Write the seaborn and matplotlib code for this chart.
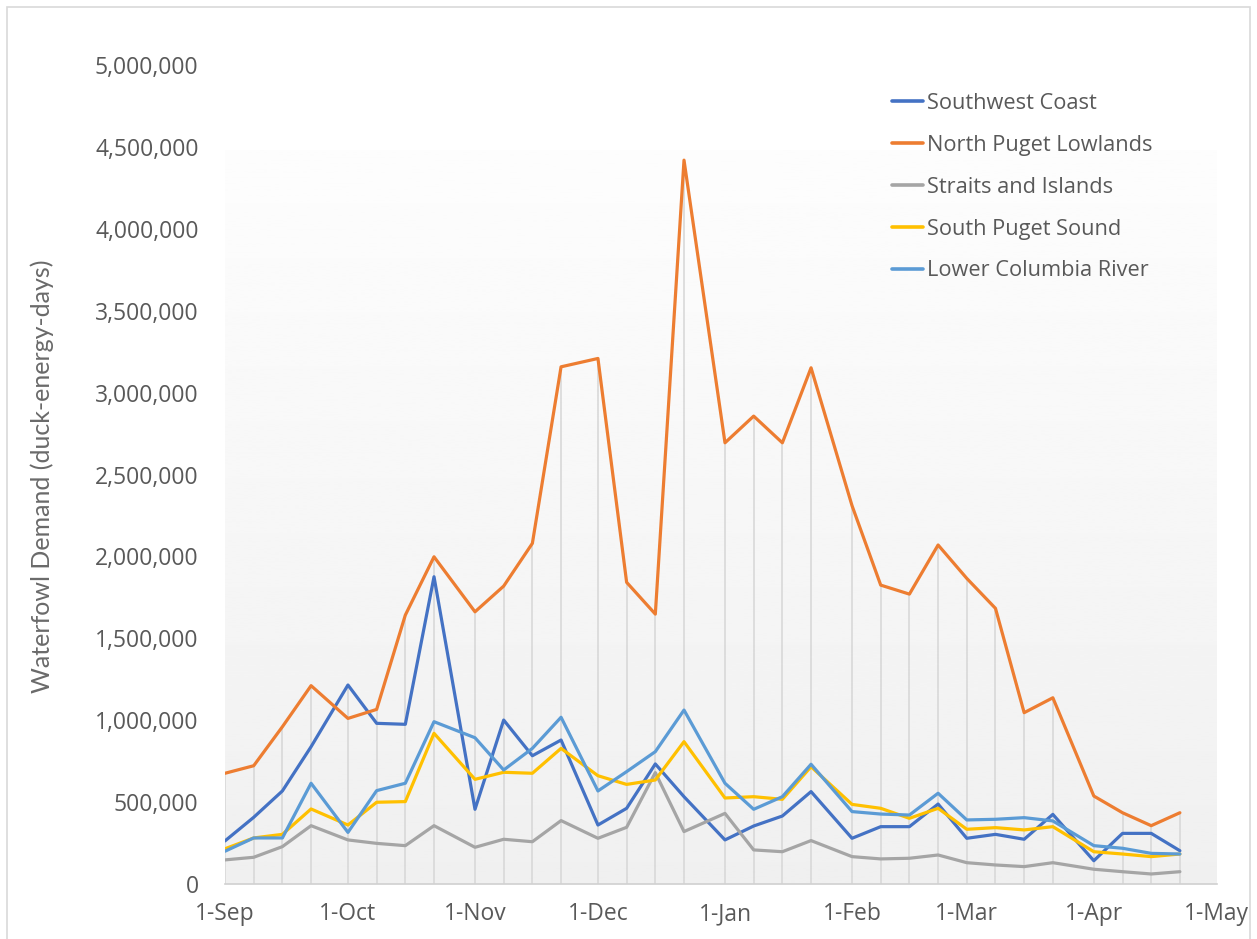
import numpy as np
import pandas as pd
import matplotlib
matplotlib.use('Agg')
import matplotlib.pyplot as plt
import matplotlib.dates as mdates
from matplotlib.patches import Rectangle
from matplotlib.ticker import FuncFormatter
import seaborn as sns

# Survey dates: the 1st, 8th, 15th and 22nd of each month, Sep - Apr
months = ['2021-09', '2021-10', '2021-11', '2021-12', '2022-01', '2022-02', '2022-03', '2022-04']
days = ['01', '08', '15', '22']
dates = pd.to_datetime([f'{m}-{d}' for m in months for d in days])

regions = ['Southwest Coast', 'North Puget Lowlands', 'Straits and Islands',
           'South Puget Sound', 'Lower Columbia River']
colors = ['#4472C4', '#ED7D31', '#A5A5A5', '#FFC000', '#5B9BD5']

# values in millions of duck-energy-days
southwest_coast = [0.263, 0.407, 0.568, 0.838, 1.215, 0.981, 0.975, 1.876,
                   0.456, 1.001, 0.783, 0.879, 0.360, 0.462, 0.733, 0.533,
                   0.269, 0.354, 0.415, 0.564, 0.279, 0.350, 0.350, 0.488,
                   0.279, 0.303, 0.273, 0.425, 0.142, 0.309, 0.309, 0.203]
north_puget = [0.676, 0.722, 0.960, 1.211, 1.011, 1.066, 1.642, 1.998,
               1.662, 1.819, 2.080, 3.158, 3.209, 1.842, 1.648, 4.420,
               2.694, 2.857, 2.694, 3.152, 2.310, 1.825, 1.770, 2.070,
               1.866, 1.683, 1.046, 1.137, 0.537, 0.435, 0.356, 0.435]
straits_islands = [0.147, 0.163, 0.228, 0.356, 0.269, 0.248, 0.234, 0.356,
                   0.224, 0.273, 0.258, 0.387, 0.279, 0.346, 0.680, 0.320,
                   0.431, 0.208, 0.197, 0.265, 0.167, 0.153, 0.157, 0.177,
                   0.130, 0.116, 0.106, 0.130, 0.090, 0.075, 0.061, 0.075]
south_puget = [0.215, 0.281, 0.303, 0.458, 0.360, 0.499, 0.503, 0.920,
               0.639, 0.682, 0.676, 0.828, 0.661, 0.608, 0.635, 0.869,
               0.525, 0.533, 0.517, 0.716, 0.486, 0.462, 0.401, 0.462,
               0.334, 0.344, 0.330, 0.350, 0.197, 0.183, 0.167, 0.183]
lower_columbia = [0.200, 0.281, 0.281, 0.615, 0.315, 0.570, 0.615, 0.991,
                  0.893, 0.696, 0.828, 1.018, 0.568, 0.686, 0.808, 1.062,
                  0.615, 0.456, 0.533, 0.731, 0.442, 0.427, 0.421, 0.554,
                  0.391, 0.395, 0.405, 0.385, 0.234, 0.218, 0.187, 0.183]

series = [southwest_coast, north_puget, straits_islands, south_puget, lower_columbia]
wide = pd.DataFrame({r: np.array(v) * 1e6 for r, v in zip(regions, series)}, index=dates)
df = wide.reset_index(names='date').melt(id_vars='date', var_name='region', value_name='demand')

sns.set_style('white')
plt.rcParams['font.family'] = ['Open Sans', 'DejaVu Sans']
text_color = '#595959'

fig = plt.figure(figsize=(12.57, 9.39), dpi=100)
ax = fig.add_axes([0.179, 0.0586, 0.789, 0.872])

x0 = pd.Timestamp('2021-09-01')
x1 = pd.Timestamp('2022-05-01')

# soft gradient plot area
grad = np.linspace(0.992, 0.94, 256).reshape(-1, 1)
ax.imshow(grad, cmap='gray', vmin=0, vmax=1, aspect='auto',
          extent=[mdates.date2num(x0) - 0.7, mdates.date2num(x1) + 1.2, 0, 4.48e6],
          zorder=0)

# drop lines
ax.vlines(wide.index, 0, wide.max(axis=1), color='#d6d6d6', lw=1.1, zorder=1)

sns.lineplot(data=df, x='date', y='demand', hue='region', hue_order=regions,
             palette=dict(zip(regions, colors)), linewidth=2.3, ax=ax, zorder=3)

ax.set_xlim(x0, x1)
ax.set_ylim(0, 5e6)
ax.set_yticks(np.arange(0, 5.01e6, 5e5))
ax.yaxis.set_major_formatter(FuncFormatter(lambda v, p: f'{v:,.0f}'))
ax.xaxis.set_major_locator(mdates.MonthLocator())
ax.xaxis.set_major_formatter(mdates.DateFormatter('%-d-%b'))

for s in ['top', 'right', 'left']:
    ax.spines[s].set_visible(False)
ax.spines['bottom'].set_color('#d0d0d0')
ax.spines['bottom'].set_linewidth(1.2)
ax.tick_params(axis='x', colors='#d0d0d0', length=6, width=1.2, direction='out',
               labelcolor=text_color, labelsize=16.5, pad=7)
ax.tick_params(axis='y', length=0, labelcolor=text_color, labelsize=16.5, pad=19)
ax.set_xlabel('')
ax.set_ylabel('')
ax.set_facecolor('white')

fig.text(42 / 1257, 1 - 476 / 939, 'Waterfowl Demand (duck-energy-days)', rotation=90,
         ha='center', va='center', fontsize=18, color='#6a6a6a', family=['Lato', 'DejaVu Sans'])

leg = ax.legend(loc='upper left', bbox_to_anchor=(883 / 1257, 1 - 84 / 939),
                bbox_transform=fig.transFigure, frameon=False, fontsize=15.7,
                handlelength=1.45, handletextpad=0.15, labelspacing=0.96, borderaxespad=0)
for t in leg.get_texts():
    t.set_color(text_color)
for h in leg.get_lines():
    h.set_linewidth(2.6)

# chart border
fig.patches.append(Rectangle((7 / 1257, -0.02), 1243 / 1257, 1 - 7 / 939 + 0.02,
                             transform=fig.transFigure, fill=False,
                             edgecolor='#d9d9d9', lw=1.2))

plt.savefig('out.png', dpi=100)
plt.close()
